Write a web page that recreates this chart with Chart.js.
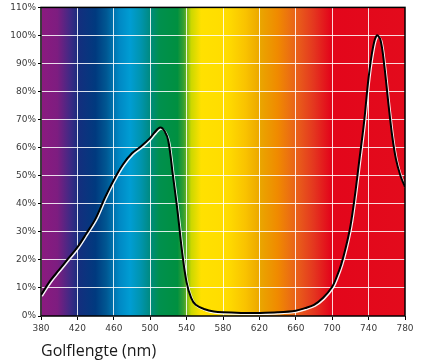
<!DOCTYPE html>
<html>
<head>
<meta charset="utf-8">
<script src="https://cdn.jsdelivr.net/npm/chart.js@4.4.1/dist/chart.umd.min.js"></script>
<style>
  html, body { margin: 0; padding: 0; background: #fff; }
  #wrap { width: 425px; height: 363px; }
</style>
</head>
<body>
<div id="wrap"><canvas id="specChart" width="425" height="363"></canvas></div>
<script>
// Spectrum data (nm / %)
const wavelengths = [380, 390, 400, 410, 420, 430, 440, 450, 460, 470, 480, 490, 500, 505, 511, 516, 520, 525, 530, 535,
    540, 545, 550, 560, 570, 580, 600, 620, 640, 660, 670, 680, 690, 700, 705, 710, 715, 720, 725, 730,
    735, 740, 745, 749, 753, 757, 762, 766, 770, 775, 780];
const intensity = [7.5, 12.5, 16.5, 20.5, 24.5, 29.5, 34.7, 42, 48.5, 54, 58, 60.5, 63.5, 65.5, 67.2, 65.8, 62.3, 50, 37.5, 23,
    12, 6.5, 4, 2.4, 1.6, 1.3, 1.1, 1.1, 1.3, 1.9, 2.8, 4, 6.5, 10.4, 14, 18.5, 24.5, 32, 43, 56,
    69, 85, 96, 100, 98.5, 90, 75, 64, 56, 50, 46];
const xTicks = [380, 420, 460, 500, 540, 580, 620, 660, 700, 740, 780];
const yTicks = [0, 10, 20, 30, 40, 50, 60, 70, 80, 90, 100, 110];

// colours of the visible spectrum behind the plot
const spectrumStops = [
    [380, '#8c1a7f'], [398, '#7d1d80'], [412, '#3f2a85'], [422, '#132f7e'], [440, '#003a7f'],
    [452, '#005893'], [466, '#0088c4'], [478, '#009dd3'], [490, '#0094ad'], [500, '#008a80'],
    [510, '#00904e'], [530, '#009040'], [537, '#3aa030'], [545, '#cbd800'], [556, '#ffe100'],
    [585, '#ffdc00'], [605, '#f9c200'], [622, '#eaa400'], [640, '#f08a00'], [660, '#e9621a'],
    [680, '#e4361f'], [698, '#e3061b'], [780, '#e30b1c']
];

const spectrumBg = {
    id: 'spectrumBg',
    beforeDraw(chart) {
        const { ctx, chartArea, scales } = chart;
        const x0 = scales.x.getPixelForValue(380);
        const x1 = scales.x.getPixelForValue(780);
        const g = ctx.createLinearGradient(x0, 0, x1, 0);
        spectrumStops.forEach(s => g.addColorStop((s[0] - 380) / 400, s[1]));
        ctx.save();
        ctx.fillStyle = g;
        ctx.fillRect(chartArea.left, chartArea.top, chartArea.right - chartArea.left, chartArea.bottom - chartArea.top);
        ctx.restore();
    },
    afterDraw(chart) {
        const { ctx, chartArea } = chart;
        ctx.save();
        ctx.strokeStyle = '#000';
        ctx.lineWidth = 1.5;
        ctx.strokeRect(chartArea.left, chartArea.top, chartArea.right - chartArea.left, chartArea.bottom - chartArea.top);
        ctx.restore();
    }
};

// white edge along the curve
const lineShadow = {
    id: 'lineShadow',
    beforeDatasetDraw(chart) {
        const ctx = chart.ctx;
        ctx.save();
        ctx.shadowColor = 'rgba(255,255,255,0.95)';
        ctx.shadowOffsetX = 1;
        ctx.shadowOffsetY = 1.2;
        ctx.shadowBlur = 0;
    },
    afterDatasetDraw(chart) {
        chart.ctx.restore();
    }
};

const tickFont = { family: 'DejaVu Sans', size: 9 };

const ctx = document.getElementById('specChart').getContext('2d');
const specChart = new Chart(ctx, {
    type: 'line',
    data: {
        datasets: [{
            data: wavelengths.map((w, i) => ({ x: w, y: intensity[i] })),
            borderColor: '#000',
            borderWidth: 2,
            pointRadius: 0,
            fill: false,
            tension: 0.35
        }]
    },
    options: {
        responsive: false,
        animation: false,
        layout: { padding: { top: 6, right: 20, left: 0, bottom: 0 } },
        plugins: {
            legend: { display: false },
            tooltip: { enabled: false }
        },
        scales: {
            x: {
                type: 'linear',
                min: 380,
                max: 780,
                afterBuildTicks: axis => { axis.ticks = xTicks.map(v => ({ value: v })); },
                afterFit: axis => { axis.height = 47; },
                grid: { color: 'rgba(255,255,255,0.85)', lineWidth: 1, tickLength: 4, tickColor: '#000' },
                border: { display: false },
                ticks: { font: tickFont, color: '#3a3a3a', padding: 3, maxRotation: 0 },
                title: {
                    display: true,
                    text: 'Golflengte (nm)',
                    align: 'start',
                    color: '#1a1a1a',
                    font: { family: 'Open Sans', size: 16 },
                    padding: { top: 4, bottom: 2 }
                }
            },
            y: {
                min: 0,
                max: 110,
                afterBuildTicks: axis => { axis.ticks = yTicks.map(v => ({ value: v })); },
                afterFit: axis => { axis.width = 41; },
                grid: { color: 'rgba(255,255,255,0.85)', lineWidth: 1, tickLength: 3, tickColor: '#000' },
                border: { display: false },
                ticks: { font: tickFont, color: '#3a3a3a', padding: 2, callback: v => v + '%' }
            }
        }
    },
    plugins: [spectrumBg, lineShadow]
});
</script>
</body>
</html>
